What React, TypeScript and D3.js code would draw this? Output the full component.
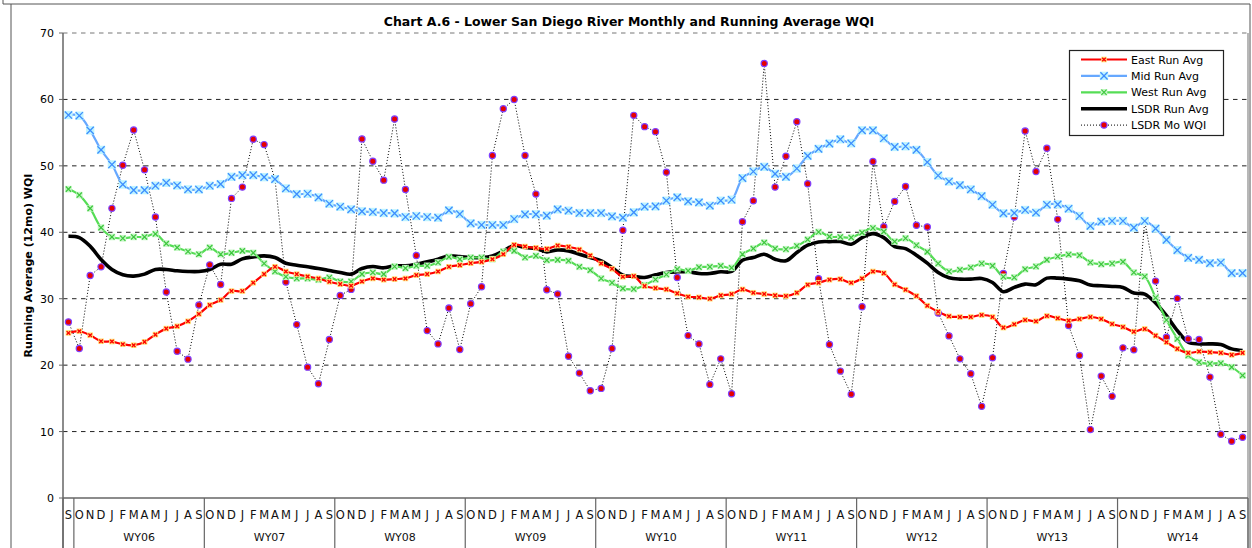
import React from "react";
import * as d3 from "d3";

// category axis: one Sep before WY06, then Oct..Sep for each water year
const monthLetters = ["O", "N", "D", "J", "F", "M", "A", "M", "J", "J", "A", "S"];
const waterYears = ["WY06", "WY07", "WY08", "WY09", "WY10", "WY11", "WY12", "WY13", "WY14"];
const months = ["S", ...waterYears.flatMap(() => monthLetters)];

const yTicks = [0, 10, 20, 30, 40, 50, 60, 70];

const eastRunAvg = [
  24.85, 25.1, 24.5, 23.6, 23.55, 23.15, 23.0, 23.5, 24.6, 25.5, 25.85, 26.6, 27.7,
  29.05, 29.8, 31.15, 31.15, 32.4, 33.7, 34.8, 34.1, 33.7, 33.35, 33.05, 32.55, 32.2, 31.95, 32.6, 33.05, 32.85, 32.95, 33.05, 33.55,
  33.7, 34.1, 34.8, 35.05, 35.35, 35.55, 35.95, 36.7, 38.1, 37.85, 37.65, 37.5,
  38.0, 37.8, 37.4, 36.5, 35.3, 34.5, 33.3, 33.4, 31.9, 31.6, 31.4, 30.8,
  30.3, 30.2, 30.0, 30.5, 30.7, 31.4, 30.9, 30.7, 30.5, 30.4, 30.9, 32.1,
  32.4, 32.85, 32.95, 32.4, 33.05, 34.1, 33.85, 32.15, 31.35, 30.4, 28.95, 28.05,
  27.35, 27.25, 27.25, 27.55, 27.25, 25.65, 26.15, 26.8, 26.6, 27.4, 27.05, 26.7,
  26.95, 27.25, 26.95, 26.2, 25.75, 25.05, 25.45, 24.45, 23.45, 22.45, 21.85, 22.05,
  21.95, 21.85, 21.55, 21.85,
];

const midRunAvg = [
  57.65, 57.55, 55.35, 52.4, 50.2, 47.2, 46.35, 46.35, 47.0, 47.45, 47.05, 46.45, 46.45,
  47.0, 47.25, 48.35, 48.6, 48.6, 48.3, 48.0, 46.6, 45.75, 45.8, 45.25, 44.3,
  43.85, 43.45, 43.15, 43.05, 42.9, 42.85, 42.3, 42.45, 42.3, 42.2, 43.3, 42.75,
  41.35, 41.1, 41.1, 41.1, 42.0, 42.7, 42.7, 42.5, 43.45, 43.25, 42.9, 42.9,
  42.9, 42.4, 42.2, 43.0, 43.85, 43.9, 44.75, 45.25, 44.65, 44.5, 44.0, 44.75,
  44.9, 48.15, 49.15, 49.85, 48.8, 48.35, 49.6, 51.5, 52.55, 53.35, 54.0, 53.4,
  55.35, 55.35, 54.15, 52.85, 52.95, 52.4, 50.55, 48.55, 47.65, 47.1, 46.45, 45.45,
  44.15, 42.85, 42.9, 43.35, 42.95, 44.15, 44.2, 43.55, 42.45, 40.95, 41.6, 41.7,
  41.7, 40.7, 41.7, 40.55, 38.85, 37.3, 36.15, 35.85, 35.35, 35.45, 33.85, 33.85,
];

const westRunAvg = [
  46.5, 45.6, 43.6, 40.7, 39.3, 39.1, 39.3, 39.3, 39.75, 38.3, 37.7, 37.1, 36.7,
  37.7, 36.7, 36.9, 37.2, 36.9, 35.3, 34.1, 33.3, 33.05, 33.05, 32.85, 33.2,
  32.6, 32.6, 33.7, 33.95, 33.7, 34.85, 34.6, 34.95, 34.95, 35.45, 36.3, 35.95,
  36.2, 36.2, 35.95, 37.1, 37.2, 36.2, 36.45, 35.8, 35.85, 35.7, 34.8, 34.3,
  33.05, 32.4, 31.55, 31.45, 32.05, 32.9, 33.65, 34.45, 34.2, 34.75, 34.8, 34.95,
  34.65, 36.7, 37.55, 38.45, 37.55, 37.45, 37.95, 38.9, 40.05, 39.35, 39.3, 39.2,
  39.95, 40.65, 40.1, 38.6, 39.1, 38.05, 37.05, 35.3, 34.1, 34.35, 34.7, 35.3,
  34.95, 33.3, 33.2, 34.45, 34.85, 35.85, 36.35, 36.65, 36.55, 35.45, 35.2, 35.3,
  35.55, 33.95, 33.35, 30.15, 26.8, 23.95, 21.45, 20.45, 20.2, 20.3, 19.7, 18.45,
];

const lsdrRunAvg = [
  39.4, 39.2, 37.9, 35.9, 34.4, 33.6, 33.4, 33.7, 34.4, 34.4, 34.2, 34.1, 34.1,
  34.4, 35.2, 35.2, 36.0, 36.3, 36.45, 36.2, 35.35, 35.05, 34.8, 34.55, 34.25,
  33.95, 33.7, 34.55, 34.85, 34.65, 34.95, 34.95, 35.2, 35.55, 35.95, 36.45, 36.35,
  36.2, 36.2, 36.45, 37.2, 38.0, 37.7, 37.55, 37.05, 37.35, 37.2, 36.7, 36.2,
  35.7, 34.7, 33.55, 33.35, 33.2, 33.6, 33.95, 34.05, 34.05, 33.8, 33.8, 34.05,
  34.1, 35.8, 36.2, 36.7, 35.95, 35.7, 36.95, 38.05, 38.55, 38.6, 38.6, 38.2,
  39.2, 39.8, 39.2, 37.85, 37.55, 36.55, 35.35, 33.95, 33.15, 32.95, 32.95, 33.05,
  32.45, 31.05, 31.7, 32.2, 32.1, 33.1, 33.1, 32.95, 32.7, 32.05, 31.95, 31.85,
  31.7, 30.85, 30.7, 29.35, 27.45, 25.2, 23.45, 23.2, 23.2, 23.1, 22.45, 22.2,
];

const lsdrMoWqi = [
  26.5, 22.5, 33.5, 34.8, 43.6, 50.1, 55.4, 49.4, 42.3, 31.0, 22.1, 20.9, 29.05,
  35.1, 32.15, 45.1, 46.8, 54.0, 53.2, 48.0, 32.5, 26.1, 19.7, 17.2, 23.85,
  30.5, 31.4, 54.05, 50.7, 47.85, 57.05, 46.45, 36.5, 25.2, 23.2, 28.6, 22.35,
  29.25, 31.8, 51.55, 58.6, 60.0, 51.55, 45.75, 31.35, 30.7, 21.35, 18.8, 16.15,
  16.5, 22.5, 40.3, 57.6, 55.9, 55.15, 49.05, 33.2, 24.45, 23.2, 17.1, 20.95,
  15.7, 41.6, 44.75, 65.4, 46.8, 51.45, 56.65, 47.3, 33.0, 23.1, 19.1, 15.6,
  28.8, 50.65, 40.85, 44.65, 46.9, 41.05, 40.8, 27.85, 24.4, 20.95, 18.7, 13.8,
  21.1, 33.8, 42.3, 55.25, 49.15, 52.65, 41.95, 25.95, 21.45, 10.3, 18.35, 15.3,
  22.6, 22.3, 41.7, 32.65, 24.2, 30.05, 23.95, 23.85, 18.2, 9.6, 8.55, 9.15,
];

const FONT = "'DejaVu Sans', Verdana, sans-serif";

// marker drawers
const EastMark = ({ x, y }) => (
  <g transform={`translate(${x},${y})`}>
    <rect x={-2.8} y={-2.8} width={5.6} height={5.6} fill="#FFE27A" />
    <path d="M-1.8,-1.8L1.8,1.8M1.8,-1.8L-1.8,1.8" stroke="#FF0000" strokeWidth={1.4} />
  </g>
);

const MidMark = ({ x, y }) => (
  <g transform={`translate(${x},${y})`}>
    <rect x={-4.2} y={-4.2} width={8.4} height={8.4} fill="#BFF4FF" />
    <path d="M-3.6,-3.6L3.6,3.6M3.6,-3.6L-3.6,3.6" stroke="#3D8EFF" strokeWidth={1.3} />
  </g>
);

const WestMark = ({ x, y }) => (
  <g transform={`translate(${x},${y})`}>
    <rect x={-3.3} y={-3.3} width={6.6} height={6.6} fill="#C4F7C4" />
    <path d="M-2.6,-2.6L2.6,2.6M2.6,-2.6L-2.6,2.6" stroke="#3CC63C" strokeWidth={1.2} />
  </g>
);

const MoMark = ({ x, y }) => (
  <circle cx={x} cy={y} r={3.1} fill="#E60000" stroke="#7F40FF" strokeWidth={1.2} />
);

export default function App() {
  const width = 1252;
  const height = 548;
  const left = 63;
  const right = 1248;
  const top = 33;
  const bottom = 498;

  const x = d3.scaleBand().domain(d3.range(months.length)).range([left, right]);
  const cx = (i) => x(i) + x.bandwidth() / 2;
  const y = d3.scaleLinear().domain([0, 70]).range([bottom, top]);

  const smooth = d3.line().x((d, i) => cx(i)).y((d) => y(d)).curve(d3.curveCatmullRom.alpha(0.5));
  const straight = d3.line().x((d, i) => cx(i)).y((d) => y(d));

  // boundaries of the water-year groups on the category axis
  const boundaries = [0, ...waterYears.map((_, k) => 1 + 12 * k), months.length];

  const legendItems = [
    { label: "East Run Avg", color: "#FF0000", w: 2.2, dash: null, Mark: EastMark },
    { label: "Mid Run Avg", color: "#66A8FF", w: 2.2, dash: null, Mark: MidMark },
    { label: "West Run Avg", color: "#55DD55", w: 2.2, dash: null, Mark: WestMark },
    { label: "LSDR Run Avg", color: "#000000", w: 3.6, dash: null, Mark: null },
    { label: "LSDR Mo WQI", color: "#000000", w: 1, dash: "1 2", Mark: MoMark },
  ];

  return (
    <svg
      width={width}
      height={height}
      style={{ position: "absolute", left: 0, top: 0, background: "#fff" }}
      fontFamily={FONT}
    >
      {/* outer chart frame */}
      <path d={`M3,0V4H1250V${height}`} fill="none" stroke="#555" strokeWidth={1} />
      <line x1={11} y1={4} x2={11} y2={height} stroke="#555" strokeWidth={1} />

      {/* title */}
      <text x={629} y={26} textAnchor="middle" fontSize={12.5} fontWeight="bold" fill="#000">
        Chart A.6 - Lower San Diego River Monthly and Running Average WQI
      </text>

      {/* gridlines */}
      {yTicks.filter((t) => t > 0).map((t) => (
        <line
          key={`g${t}`}
          x1={left}
          x2={right}
          y1={y(t)}
          y2={y(t)}
          stroke={t === 70 ? "#777" : "#222"}
          strokeWidth={1}
          strokeDasharray="4.5 4.5"
        />
      ))}
      <line x1={right} x2={right} y1={top} y2={height} stroke="#888" strokeWidth={1.2} />

      {/* y axis */}
      <line x1={left} x2={left} y1={top} y2={height} stroke="#666" strokeWidth={1.5} />
      {yTicks.map((t) => (
        <g key={`t${t}`}>
          <line x1={left - 4} x2={left} y1={y(t)} y2={y(t)} stroke="#666" strokeWidth={1} />
          <text x={54} y={y(t) + 4} textAnchor="end" fontSize={11} fill="#000">
            {t}
          </text>
        </g>
      ))}
      <text
        transform={`translate(32,${(top + bottom) / 2}) rotate(-90)`}
        textAnchor="middle"
        fontSize={11}
        fontWeight="bold"
        fill="#000"
      >
        Running Average (12mo) WQI
      </text>

      {/* x axis */}
      <line x1={left} x2={right} y1={bottom} y2={bottom} stroke="#666" strokeWidth={1.5} />
      {boundaries.map((b, k) => (
        <line
          key={`b${k}`}
          x1={left + b * x.step()}
          x2={left + b * x.step()}
          y1={bottom}
          y2={height}
          stroke="#666"
          strokeWidth={1.2}
        />
      ))}
      {months.map((m, i) => (
        <text key={`m${i}`} x={cx(i)} y={519} textAnchor="middle" fontSize={11.5} fill="#111">
          {m}
        </text>
      ))}
      {waterYears.map((wy, k) => (
        <text
          key={wy}
          x={left + (1 + 12 * k + 6) * x.step()}
          y={541}
          textAnchor="middle"
          fontSize={11}
          fill="#111"
        >
          {wy}
        </text>
      ))}

      {/* series lines */}
      <path d={straight(lsdrMoWqi)} fill="none" stroke="#000" strokeWidth={1} strokeDasharray="1 2" />
      <path d={smooth(lsdrRunAvg)} fill="none" stroke="#000" strokeWidth={3.6} />
      <path d={smooth(westRunAvg)} fill="none" stroke="#55DD55" strokeWidth={2.2} />
      <path d={smooth(midRunAvg)} fill="none" stroke="#66A8FF" strokeWidth={2.2} />
      <path d={smooth(eastRunAvg)} fill="none" stroke="#FF0000" strokeWidth={2.2} />

      {/* markers */}
      {lsdrMoWqi.map((v, i) => <MoMark key={`mo${i}`} x={cx(i)} y={y(v)} />)}
      {westRunAvg.map((v, i) => <WestMark key={`w${i}`} x={cx(i)} y={y(v)} />)}
      {midRunAvg.map((v, i) => <MidMark key={`md${i}`} x={cx(i)} y={y(v)} />)}
      {eastRunAvg.map((v, i) => <EastMark key={`e${i}`} x={cx(i)} y={y(v)} />)}

      {/* legend */}
      <g>
        <rect x={1069.5} y={50.5} width={154} height={85} fill="#fff" stroke="#222" strokeWidth={1.2} />
        {legendItems.map((it, k) => {
          const ly = 59.5 + k * 16.4;
          const Mark = it.Mark;
          return (
            <g key={it.label}>
              <line
                x1={1081}
                x2={1127}
                y1={ly}
                y2={ly}
                stroke={it.color}
                strokeWidth={it.w}
                strokeDasharray={it.dash || undefined}
              />
              {Mark && <Mark x={1104} y={ly} />}
              <text x={1131} y={ly + 4} fontSize={11} fill="#000">
                {it.label}
              </text>
            </g>
          );
        })}
      </g>
    </svg>
  );
}
